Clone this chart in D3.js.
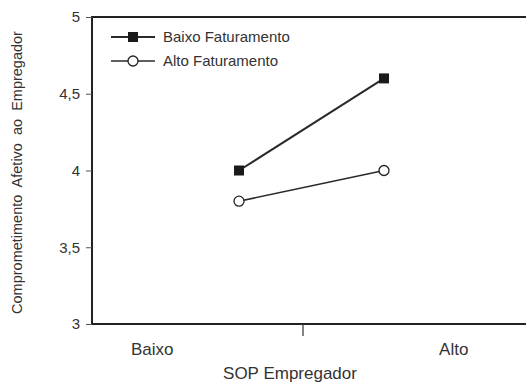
<!DOCTYPE html>
<html>
<head>
<meta charset="utf-8">
<script src="https://cdn.jsdelivr.net/npm/d3@7"></script>
<style>
  body { margin: 0; background: #fff; }
  svg { display: block; font-family: "Liberation Sans", Arial, sans-serif; }
  text { fill: #333; }
</style>
</head>
<body>
<svg id="chart" width="526" height="382"></svg>
<script>
// SOP levels (x) and the two groups
var sopLevels = ["Baixo", "Alto"];
var seriesNames = ["Baixo Faturamento", "Alto Faturamento"];
var baixoFat = [4.0, 4.6];
var altoFat = [3.8, 4.0];
var yTicks = [3, 3.5, 4, 4.5, 5];
var yTitle = "Comprometimento  Afetivo  ao  Empregador";
var xTitle = "SOP Empregador";

var series = [
  { name: seriesNames[0], values: baixoFat, shape: "square" },
  { name: seriesNames[1], values: altoFat, shape: "circle" }
];

var svg = d3.select("#chart");
var mLeft = 92, mTop = 17, mBottom = 324, mRight = 540;

var y = d3.scaleLinear().domain([3, 5]).range([mBottom, mTop]);
// label positions along the axis
var xLab = d3.scalePoint().domain(sopLevels).range([mLeft, 514]).padding(0.2);
// where the points sit
var xPt = d3.scalePoint().domain(sopLevels).range([239, 384]);

var fmt = d => String(d).replace(".", ",");

// frame
svg.append("rect")
  .attr("x", mLeft).attr("y", mTop)
  .attr("width", mRight - mLeft).attr("height", mBottom - mTop)
  .attr("fill", "none").attr("stroke", "#222").attr("stroke-width", 2);

// y axis
var yAxis = svg.append("g")
  .attr("transform", `translate(${mLeft},0)`)
  .call(d3.axisLeft(y).tickValues(yTicks).tickFormat(fmt).tickSize(6).tickPadding(6));
yAxis.select(".domain").remove();
yAxis.selectAll("line").attr("stroke", "#555");
yAxis.selectAll("text").attr("font-size", 15).attr("fill", "#333")
  .attr("font-family", "Liberation Sans, Arial, sans-serif");

// x axis: one tick in the middle, labels under the levels
var mid = (xLab("Baixo") + xLab("Alto")) / 2;
svg.append("line")
  .attr("x1", mid).attr("x2", mid)
  .attr("y1", mBottom).attr("y2", mBottom + 12)
  .attr("stroke", "#333").attr("stroke-width", 1.2);

svg.selectAll("text.xlab")
  .data(sopLevels)
  .enter().append("text")
  .attr("class", "xlab")
  .attr("x", d => xLab(d))
  .attr("y", 355)
  .attr("text-anchor", "middle")
  .attr("font-size", 17)
  .text(d => d);

svg.append("text")
  .attr("x", mid - 13).attr("y", 379)
  .attr("text-anchor", "middle")
  .attr("font-size", 17)
  .text(xTitle);

svg.append("text")
  .attr("transform", `translate(22,${(mTop + mBottom) / 2 + 2}) rotate(-90)`)
  .attr("text-anchor", "middle")
  .attr("font-size", 14.5)
  .style("white-space", "pre")
  .text(yTitle);

// lines and markers
var line = d3.line()
  .x((d, i) => xPt(sopLevels[i]))
  .y(d => y(d));

function drawMarker(g, shape, cx, cy) {
  if (shape === "square") {
    g.append("rect")
      .attr("x", cx - 5).attr("y", cy - 5)
      .attr("width", 10).attr("height", 10)
      .attr("fill", "#1a1a1a");
  } else {
    g.append("circle")
      .attr("cx", cx).attr("cy", cy).attr("r", 5)
      .attr("fill", "#fff").attr("stroke", "#222").attr("stroke-width", 1.3);
  }
}

series.forEach(function (s) {
  var g = svg.append("g");
  g.append("path")
    .attr("d", line(s.values))
    .attr("fill", "none")
    .attr("stroke", "#2a2a2a")
    .attr("stroke-width", s.shape === "square" ? 2 : 1.6);
  s.values.forEach((v, i) => drawMarker(g, s.shape, xPt(sopLevels[i]), y(v)));
});

// legend
var legend = svg.append("g").attr("transform", "translate(111,37)");
series.forEach(function (s, i) {
  var row = legend.append("g").attr("transform", `translate(0,${i * 24})`);
  row.append("line")
    .attr("x1", 0).attr("x2", 44)
    .attr("stroke", "#2a2a2a").attr("stroke-width", s.shape === "square" ? 2 : 1.6);
  drawMarker(row, s.shape, 22, 0);
  row.append("text")
    .attr("x", 52).attr("y", 5)
    .attr("font-size", 15)
    .text(s.name);
});
</script>
</body>
</html>
